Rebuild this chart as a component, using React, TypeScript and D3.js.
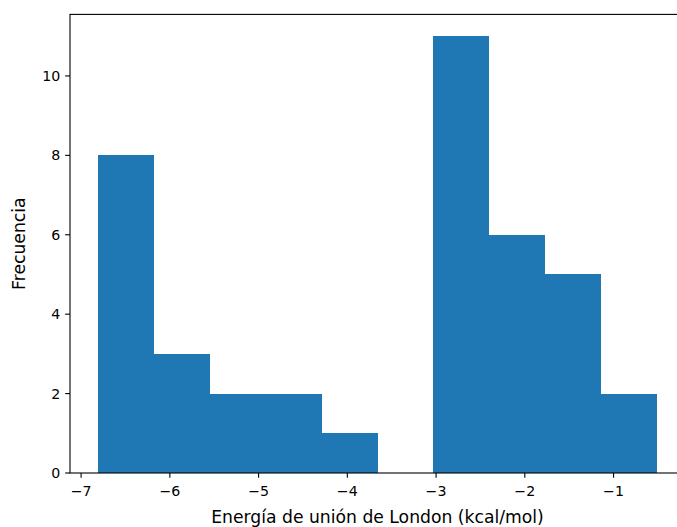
import React from "react";
import * as d3 from "d3";

// Histogram of London binding energies
const binEdges = [-6.81, -6.18, -5.55, -4.92, -4.29, -3.66, -3.03, -2.4, -1.77, -1.14, -0.51];
const counts = [8, 3, 2, 2, 1, 0, 11, 6, 5, 2];
const xTicks = [-7, -6, -5, -4, -3, -2, -1];
const yTicks = [0, 2, 4, 6, 8, 10];

const W = 677;
const H = 527;
const plot = { left: 70, right: 685, top: 14.4, bottom: 473 };
const FONT = "DejaVu Sans, sans-serif";
const BAR = "#1f77b4";
const TICK_FS = 14.2;
const LABEL_FS = 17.2;

export default function App() {
  const lo = binEdges[0];
  const hi = binEdges[binEdges.length - 1];
  const pad = (hi - lo) * 0.05;
  const x = d3.scaleLinear().domain([lo - pad, hi + pad]).range([plot.left, plot.right]);
  const yMax = d3.max(counts) as number;
  const y = d3.scaleLinear().domain([0, yMax * 1.05]).range([plot.bottom, plot.top]);
  const fmt = (v: number) => (v < 0 ? "\u2212" + Math.abs(v) : String(v));
  const tickLen = 4.86;

  return (
    <svg
      width={W}
      height={H}
      style={{ position: "absolute", left: 0, top: 0, background: "#fff" }}
      fontFamily={FONT}
    >
      <g shapeRendering="crispEdges">
        {counts.map((c, i) =>
          c > 0 ? (
            <rect
              key={i}
              x={x(binEdges[i])}
              y={y(c)}
              width={x(binEdges[i + 1]) - x(binEdges[i])}
              height={y(0) - y(c)}
              fill={BAR}
            />
          ) : null
        )}
      </g>
      {/* spines */}
      <rect
        x={plot.left}
        y={plot.top}
        width={plot.right - plot.left}
        height={plot.bottom - plot.top}
        fill="none"
        stroke="#000"
        strokeWidth={1.1}
      />
      {/* x axis */}
      {xTicks.map((t) => (
        <g key={t} transform={`translate(${x(t)},${plot.bottom})`}>
          <line y1={0} y2={tickLen} stroke="#000" strokeWidth={1.1} />
          <text y={tickLen + 18} textAnchor="middle" fontSize={TICK_FS} fill="#000">
            {fmt(t)}
          </text>
        </g>
      ))}
      {/* y axis */}
      {yTicks.map((t) => (
        <g key={t} transform={`translate(${plot.left},${y(t)})`}>
          <line x1={0} x2={-tickLen} stroke="#000" strokeWidth={1.1} />
          <text x={-tickLen - 4.86} dy="0.35em" textAnchor="end" fontSize={TICK_FS} fill="#000">
            {fmt(t)}
          </text>
        </g>
      ))}
      <text
        x={(plot.left + plot.right) / 2}
        y={522.5}
        textAnchor="middle"
        fontSize={LABEL_FS}
        fill="#000"
      >
        Energía de unión de London (kcal/mol)
      </text>
      <text
        transform={`translate(25,${(plot.top + plot.bottom) / 2}) rotate(-90)`}
        textAnchor="middle"
        fontSize={LABEL_FS}
        fill="#000"
      >
        Frecuencia
      </text>
    </svg>
  );
}
